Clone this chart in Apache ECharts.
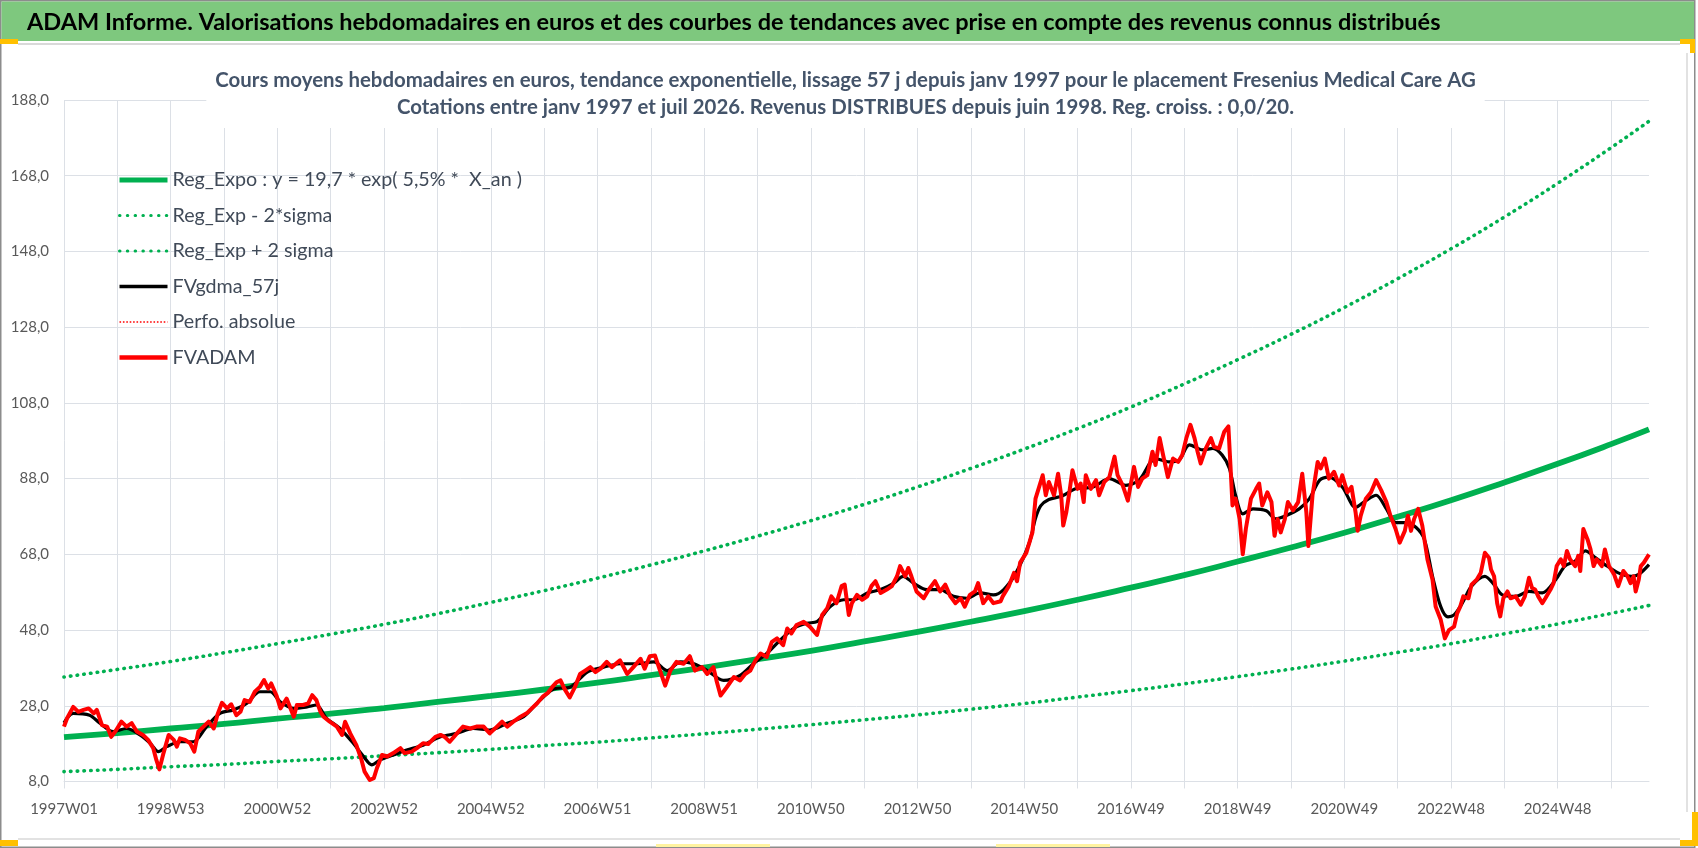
<!DOCTYPE html>
<html>
<head>
<meta charset="utf-8">
<script src="https://cdn.jsdelivr.net/npm/echarts@6/dist/echarts.min.js"></script>
<style>
html,body{margin:0;padding:0;background:#fff;}
#chart{width:1698px;height:848px;}
</style>
</head>
<body>
<div id="chart"></div>
<script>
// ---------- DATA ----------
const mainTitle = "ADAM Informe. Valorisations hebdomadaires en euros et des courbes de tendances avec prise en compte des revenus connus distribués";
const subTitle1 = "Cours moyens hebdomadaires en euros, tendance exponentielle, lissage 57 j depuis janv 1997 pour le placement Fresenius Medical Care AG";
const subTitle2 = "Cotations entre janv 1997 et juil 2026. Revenus DISTRIBUES depuis juin 1998. Reg. croiss. : 0,0/20.";

const seriesNames = [
  "Reg_Expo : y = 19,7 * exp( 5,5% *  X_an )",
  "Reg_Exp - 2*sigma",
  "Reg_Exp + 2 sigma",
  "FVgdma_57j",
  "Perfo. absolue",
  "FVADAM"
];

const weekCount = 1546; // 1997W01 .. 2026W33

// trend curves (week index since 1997W01, value)
const trendWeek = [0,52,104,156,208,260,312,364,416,468,520,572,624,676,728,780,832,884,936,988,1040,1092,1144,1196,1248,1300,1352,1404,1456,1508,1545];
const regExpo  = [19.7,20.8,22.0,23.2,24.6,25.9,27.4,29.0,30.6,32.3,34.1,36.1,38.1,40.3,42.5,45.0,47.5,50.2,53.0,56.0,59.2,62.5,66.1,69.8,73.7,77.9,82.3,87.0,91.9,97.1,101.0];
const regLow   = [10.6,11.2,11.9,12.5,13.3,14.0,14.8,15.6,16.5,17.5,18.4,19.5,20.6,21.8,23.0,24.3,25.6,27.1,28.6,30.3,32.0,33.8,35.7,37.7,39.8,42.1,44.4,47.0,49.6,52.4,54.5];
const regHigh  = [35.6,37.6,39.7,42.0,44.4,46.9,49.5,52.3,55.3,58.4,61.7,65.2,68.9,72.8,76.9,81.2,85.8,90.7,95.8,101.2,106.9,113.0,119.4,126.1,133.2,140.8,148.7,157.1,166.0,175.4,182.4];

// FVgdma_57j (smoothed)
const gdmaWeek = [0,9,25,35,48,61,74,84,92,100,113,126,139,152,165,178,191,201,211,224,237,246,256,269,282,292,300,308,321,334,350,367,383,399,415,432,448,464,478,493,510,526,542,558,575,588,601,614,627,643,659,672,685,698,711,724,734,747,760,770,783,796,809,818,828,841,854,867,880,893,906,916,928,941,947,952,960,973,986,1003,1019,1035,1048,1064,1077,1087,1097,1110,1120,1129,1136,1142,1149,1159,1172,1181,1191,1204,1214,1224,1233,1246,1259,1269,1279,1289,1298,1308,1318,1326,1334,1342,1349,1355,1363,1372,1385,1394,1402,1415,1428,1441,1454,1463,1473,1483,1493,1502,1515,1528,1535,1545];
const gdmaValue = [23.5,26,25.5,23.4,21.2,22,20.3,18.1,15.9,17.2,18.5,18.5,22.5,26,26.9,28.6,31.7,31.7,29,27.3,27.7,28.2,24.7,22,18.1,14.6,12.4,13.7,15,16.3,17.6,19.8,20.7,22,21.6,23.4,25.1,29.5,32.5,32.9,36.9,38.2,39.1,39.1,39.6,37.3,39.6,39.1,37.3,34.7,36,39.1,41.8,45.3,48.4,49.8,50.2,54.2,56,56,57.8,58.7,60.4,62.2,60.4,58.7,58.7,56.9,56.4,57.8,57.3,58.7,63.1,71.1,77.5,80.8,82.5,83.4,85.3,85.8,88,86.2,87.6,93.3,92.4,92.9,96.9,95.6,96,94.2,90.7,83.6,78.7,80,79.5,77.4,78.2,80,82.7,87.6,88.4,85.8,80.4,82.2,83.6,80,76.4,76.4,75.1,72,62.2,54.2,51.5,52,55.1,59.6,62.2,60,57.3,56.9,58.2,57.8,61.3,64.9,66.2,68.9,67.1,65.3,63.1,62.2,62.7,65.3];

// FVADAM (weekly valuation)
const fvadamWeek = [0,3,9,14,19,24,29,32,37,42,46,50,56,61,66,71,77,82,87,90,93,97,102,107,110,113,118,123,127,131,136,141,146,150,154,159,163,168,172,176,181,186,191,195,199,202,207,211,217,224,227,233,238,242,246,250,253,259,266,271,274,279,285,290,293,298,302,305,310,315,321,328,332,339,344,350,355,362,367,371,376,383,389,396,402,409,415,422,427,432,438,445,451,456,461,467,472,476,480,484,488,493,498,503,508,513,518,523,529,534,542,549,555,562,566,571,576,581,586,591,597,604,610,615,622,627,633,636,640,646,653,659,664,669,674,679,685,690,695,701,705,709,714,721,727,734,739,744,748,753,758,761,765,768,773,778,783,787,791,796,802,807,812,815,820,823,826,831,838,843,849,854,859,864,869,874,878,883,888,891,896,901,906,913,915,921,926,929,932,938,944,947,951,954,957,960,965,969,972,974,977,980,983,988,991,994,996,1001,1006,1009,1014,1019,1024,1027,1032,1037,1040,1043,1047,1051,1056,1061,1064,1068,1071,1076,1081,1086,1090,1094,1098,1102,1105,1108,1113,1118,1121,1126,1131,1135,1137,1139,1142,1146,1149,1152,1157,1162,1165,1168,1173,1177,1180,1183,1186,1190,1193,1198,1203,1207,1211,1213,1217,1222,1225,1229,1233,1238,1243,1246,1251,1255,1259,1261,1264,1269,1274,1279,1284,1289,1293,1298,1302,1307,1310,1313,1316,1320,1324,1329,1334,1337,1342,1346,1350,1355,1358,1361,1364,1369,1372,1377,1381,1385,1389,1391,1394,1397,1400,1403,1407,1410,1415,1420,1424,1428,1431,1434,1437,1441,1444,1449,1452,1455,1459,1462,1465,1468,1473,1476,1478,1481,1485,1488,1491,1494,1499,1502,1506,1511,1515,1520,1524,1527,1530,1532,1535,1537,1540,1545];
const fvadamValue = [22.5,24.7,27.7,26.4,26.9,27.3,26,26.9,22.9,22.5,19.8,21.2,23.8,22.5,23.4,21.2,20.3,19,16.8,13.7,11.2,15.5,20.3,19,17.2,19.4,19,18.1,15.9,21.2,22.5,23.8,22,26,28.8,27.3,28.4,25.5,26.4,29.5,29,31.7,33,34.8,32.6,33.9,30.8,27.3,29.9,25.1,28.2,28.2,28.6,30.8,29.5,26.4,25.1,23.8,22.5,20.3,23.8,20.7,17.6,13.7,10.6,8.4,8.9,11.5,15,14.6,15.5,16.8,15.5,15.9,16.8,18.1,17.9,19.8,20.3,19.8,18.5,20.7,22.5,22,22.5,22.5,20.7,22.5,23.8,22.5,23.8,25.1,26,27.3,28.6,30.5,31.5,33,34.2,34.7,32.4,30.2,32.9,36.4,37.3,38.2,36.9,37.8,39.6,38.2,40,36.4,38.2,40.4,37.8,41.1,41.3,37.3,33.3,37.3,39.6,39.1,41.1,37.3,38.2,36.4,38.2,34.7,30.7,32.9,35.6,34.7,36.4,37.3,40,41.8,40.9,44.9,45.8,44,48.4,47.1,49.3,50.2,48.9,46.7,52,53.8,56.9,55.1,59.6,60,52,55.1,57.3,56,56.9,59.6,60.9,57.8,58.7,59.6,62.2,64.9,62.2,64.4,62.2,58.2,56.4,58.7,60.9,58.2,60,56.9,55.1,56.4,54.2,57.3,58.2,60.4,55.1,56.9,55.1,55.6,56.9,59.6,63.1,60.9,65.8,68.4,73.8,82.7,86.2,88.9,83.6,87.1,83.6,89.3,83.6,75.6,79.1,84.4,90.2,85.3,86.7,81.8,88.9,85.3,87.6,83.6,87.1,88.4,93.8,88.9,86.2,82.2,86.7,91.1,85.8,88,88.9,95.1,91.6,98.7,94.7,88.4,93.3,92.4,94.2,98.7,102.2,98.7,95.1,92,96,98.7,96.4,96,100.4,101.8,91.6,80.9,82.7,77.3,68,74.7,82.7,85.3,86.7,80.9,84.4,81.8,72.9,77.3,73.8,77.3,81.8,79.6,81.8,89.3,79.1,70.2,83.6,92.4,90.7,93.3,88,89.8,86.2,88.9,84.4,85.8,79.1,74.2,78.2,82.7,84.4,87.6,84.9,81.8,78.2,74.7,71.1,74.2,78.2,74.2,77.3,80,75.6,66.7,61.3,54.2,50.7,45.8,48,48.9,52.4,54.2,56.9,56.4,60,61.3,63.1,68.4,67.1,64,62.2,55.1,51.6,56.4,58.2,56.4,56.9,54.7,56.9,61.8,59.1,58.7,56.9,55.1,56.4,58.7,60.4,64.9,66.7,64.9,68.9,66.7,64.9,67.6,63.6,74.7,72,69.3,64.9,66.7,64.9,69.3,64.9,62.7,59.6,63.6,62.2,60.4,62.2,58.2,61.3,64.9,65.8,68];

const perfoWeek = [];
const perfoValue = [];

// y axis ticks
const yMin = 8, yMax = 188, yStep = 20;

// ---------- helpers ----------
function isoWeekLabels(n) {
  const out = [];
  const start = Date.UTC(1996, 11, 30); // Monday of 1997W01
  for (let i = 0; i < n; i++) {
    const d = new Date(start + i * 7 * 86400000);
    const th = new Date(d.getTime() + 3 * 86400000);
    const y = th.getUTCFullYear();
    const jan1 = Date.UTC(y, 0, 1);
    const wk = Math.floor((th.getTime() - jan1) / 86400000 / 7) + 1;
    out.push(y + "W" + (wk < 10 ? "0" + wk : wk));
  }
  return out;
}
function pairs(xs, ys) { return xs.map((x, i) => [x, ys[i]]); }

const categories = isoWeekLabels(weekCount);

const FONT = "Lato, 'Open Sans', 'Noto Sans', sans-serif";
const GREEN = '#00B050';
const GRID = '#DCE0E6';
const dotted = [0.5, 6.2];

const chart = echarts.init(document.getElementById('chart'), null, {renderer: 'canvas'});

const option = {
  animation: false,
  backgroundColor: '#ffffff',
  grid: {left: 64, right: 49, top: 100, bottom: 66.5, containLabel: false, outerBoundsMode: 'none'},
  legend: {
    show: true,
    orient: 'vertical',
    left: 112,
    top: 165,
    itemWidth: 48,
    itemHeight: 20,
    itemGap: 15.5,
    selectedMode: false,
    itemStyle: {opacity: 0},
    data: [
      {name: seriesNames[0], itemStyle: {opacity: 0}, lineStyle: {width: 5, color: GREEN, type: 'solid'}},
      {name: seriesNames[1], itemStyle: {opacity: 0}, lineStyle: {width: 3, color: GREEN, type: [0.5, 7.3], cap: 'round'}},
      {name: seriesNames[2], itemStyle: {opacity: 0}, lineStyle: {width: 3, color: GREEN, type: [0.5, 7.3], cap: 'round'}},
      {name: seriesNames[3], itemStyle: {opacity: 0}, lineStyle: {width: 3.5, color: '#000000', type: 'solid'}},
      {name: seriesNames[4], itemStyle: {opacity: 0}, lineStyle: {width: 1.6, color: '#FF0000', type: [1.6, 1.8]}},
      {name: seriesNames[5], itemStyle: {opacity: 0}, lineStyle: {width: 4.5, color: '#FF0000', type: 'solid'}}
    ],
    textStyle: {fontFamily: FONT, fontSize: 19.7, color: '#404A58', lineHeight: 20},
    backgroundColor: 'transparent'
  },
  xAxis: {
    type: 'category',
    data: categories,
    boundaryGap: false,
    axisLine: {show: true, lineStyle: {color: GRID, width: 1}},
    axisTick: {show: true, interval: 51, length: 7, lineStyle: {color: GRID}},
    axisLabel: {interval: 103, margin: 20,
      fontFamily: FONT, fontSize: 15, color: '#595959'},
    splitLine: {show: true, interval: 51, lineStyle: {color: GRID, width: 1}}
  },
  yAxis: {
    type: 'value',
    min: yMin, max: yMax, interval: yStep,
    axisLine: {show: false},
    axisTick: {show: false},
    axisLabel: {margin: 15, fontFamily: FONT, fontSize: 15, color: '#595959',
      formatter: v => v.toFixed(1).replace('.', ',')},
    splitLine: {show: true, lineStyle: {color: GRID, width: 1}}
  },
  series: [
    {name: seriesNames[0], type: 'line', symbol: 'none', smooth: true, silent: true,
      data: pairs(trendWeek, regExpo), lineStyle: {color: GREEN, width: 5.8}, itemStyle: {color: GREEN}, z: 2},
    {name: seriesNames[1], type: 'line', symbol: 'none', smooth: true, silent: true,
      data: pairs(trendWeek, regLow), lineStyle: {color: GREEN, width: 3.6, type: dotted, cap: 'round'}, itemStyle: {color: GREEN}, z: 2},
    {name: seriesNames[2], type: 'line', symbol: 'none', smooth: true, silent: true,
      data: pairs(trendWeek, regHigh), lineStyle: {color: GREEN, width: 3.6, type: dotted, cap: 'round'}, itemStyle: {color: GREEN}, z: 2},
    {name: seriesNames[3], type: 'line', symbol: 'none', smooth: 0.3, silent: true,
      data: pairs(gdmaWeek, gdmaValue), lineStyle: {color: '#000000', width: 3.2}, itemStyle: {color: '#000000'}, z: 3},
    {name: seriesNames[4], type: 'line', symbol: 'none', silent: true,
      data: pairs(perfoWeek, perfoValue), lineStyle: {color: '#FF0000', width: 1.6, type: [1.6, 1.8]}, itemStyle: {color: '#FF0000'}, z: 3},
    {name: seriesNames[5], type: 'line', symbol: 'none', smooth: false, silent: true,
      data: pairs(fvadamWeek, fvadamValue), lineStyle: {color: '#FF0000', width: 4, join: 'round'}, itemStyle: {color: '#FF0000'}, z: 4}
  ],
  graphic: [
    // outer frame
    {type: 'rect', z: 1, silent: true, shape: {x: 0.75, y: 0.75, width: 1694, height: 846.5},
      style: {fill: 'none', stroke: '#8C8C8C', lineWidth: 1.5}},
    // title bar
    {type: 'rect', z: 1, silent: true, shape: {x: 1.5, y: 1.5, width: 1692.5, height: 39.5},
      style: {fill: '#7EC87E'}},
    {type: 'line', z: 1, silent: true, shape: {x1: 18, y1: 44, x2: 1680, y2: 44}, style: {stroke: '#D9D9D9', lineWidth: 2}},
    {type: 'line', z: 1, silent: true, shape: {x1: 1687, y1: 53, x2: 1687, y2: 812}, style: {stroke: '#D9D9D9', lineWidth: 1.5}},
    {type: 'line', z: 1, silent: true, shape: {x1: 18, y1: 839, x2: 1680, y2: 839}, style: {stroke: '#D9D9D9', lineWidth: 1.5}},
    // selection handles
    {type: 'rect', z: 1, silent: true, shape: {x: 0, y: 39, width: 18, height: 5}, style: {fill: '#FFC000'}},
    {type: 'rect', z: 1, silent: true, shape: {x: 1680, y: 39, width: 15, height: 5}, style: {fill: '#FFC000'}},
    {type: 'rect', z: 1, silent: true, shape: {x: 1690, y: 39, width: 5, height: 14}, style: {fill: '#FFC000'}},
    {type: 'rect', z: 1, silent: true, shape: {x: 0, y: 840, width: 18, height: 6}, style: {fill: '#FFC000'}},
    {type: 'rect', z: 1, silent: true, shape: {x: 1692, y: 812, width: 6, height: 34}, style: {fill: '#FFC000'}},
    {type: 'rect', z: 1, silent: true, shape: {x: 1680, y: 840, width: 18, height: 6}, style: {fill: '#FFC000'}},
    {type: 'rect', z: 1, silent: true, shape: {x: 656, y: 844, width: 114, height: 3}, style: {fill: '#FFF3A0'}},
    {type: 'rect', z: 1, silent: true, shape: {x: 996, y: 844, width: 114, height: 3}, style: {fill: '#FFF3A0'}},
    // main title
    {type: 'text', z: 10, silent: true, style: {text: mainTitle, x: 27, y: 22.5,
      fontFamily: FONT, fontSize: 23.5, fontWeight: 'bold', fill: '#000000',
      align: 'left', verticalAlign: 'middle'}},
    // chart subtitle (white box hides grid lines behind it)
    {type: 'text', z: 10, silent: true, style: {text: subTitle1 + "\n" + subTitle2, x: 845.5, y: 93.5,
      fontFamily: FONT, fontSize: 20.4, fontWeight: 'bold', fill: '#44546A', lineHeight: 27,
      align: 'center', verticalAlign: 'middle', backgroundColor: '#ffffff', padding: [7, 9, 8, 9]}}
  ]
};
chart.setOption(option);
</script>
</body>
</html>
